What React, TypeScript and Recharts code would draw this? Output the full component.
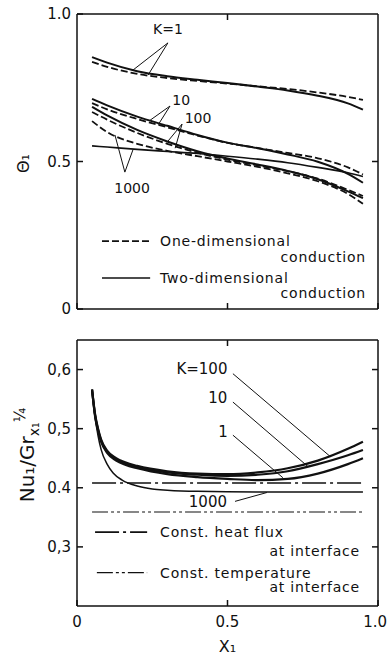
import React from 'react';
import { LineChart, Line, XAxis, YAxis, ReferenceLine, ReferenceDot } from 'recharts';

const FONT = '"DejaVu Sans", sans-serif';
const INK = '#111';

// ---------- top panel: theta_1 vs X_1 ----------
const thetaX = [0.05, 0.1, 0.2, 0.3, 0.4, 0.5, 0.6, 0.7, 0.8, 0.9, 0.95];
const thetaK1Two = [0.854, 0.835, 0.806, 0.789, 0.777, 0.766, 0.754, 0.741, 0.723, 0.697, 0.676];
const thetaK1One = [0.838, 0.821, 0.797, 0.783, 0.773, 0.764, 0.755, 0.746, 0.734, 0.719, 0.709];
const thetaK10Two = [0.712, 0.69, 0.652, 0.621, 0.59, 0.564, 0.545, 0.524, 0.499, 0.458, 0.428];
const thetaK10One = [0.698, 0.677, 0.644, 0.616, 0.588, 0.563, 0.546, 0.529, 0.511, 0.48, 0.456];
const thetaK100Two = [0.685, 0.656, 0.607, 0.568, 0.535, 0.51, 0.49, 0.468, 0.44, 0.399, 0.376];
const thetaK100One = [0.668, 0.642, 0.597, 0.56, 0.53, 0.506, 0.487, 0.467, 0.442, 0.404, 0.383];
const thetaK1000One = [0.637, 0.6, 0.56, 0.536, 0.518, 0.5, 0.482, 0.46, 0.433, 0.39, 0.357];
const thetaK1000Two = [0.553, 0.549, 0.541, 0.534, 0.527, 0.518, 0.508, 0.496, 0.48, 0.462, 0.449];

const thetaYTicks = [0, 0.5, 1];
const thetaYLabels = ['0', '0.5', '1.0'];

// ---------- bottom panel: Nu_1 / Gr^(1/4) vs X_1 ----------
const nuX = [0.05, 0.06, 0.07, 0.08, 0.1, 0.13, 0.16, 0.2, 0.3, 0.4, 0.5, 0.6, 0.7, 0.8, 0.9, 0.95];
const nuK100 = [0.566, 0.525, 0.5, 0.482, 0.463, 0.45, 0.443, 0.437, 0.428, 0.424, 0.423, 0.426, 0.433, 0.446, 0.466, 0.478];
const nuK10 = [0.566, 0.523, 0.498, 0.48, 0.461, 0.448, 0.441, 0.435, 0.426, 0.422, 0.42, 0.422, 0.428, 0.44, 0.455, 0.464];
const nuK1 = [0.566, 0.521, 0.496, 0.478, 0.459, 0.446, 0.439, 0.433, 0.423, 0.418, 0.415, 0.413, 0.415, 0.424, 0.44, 0.45];
const nuX1000 = [0.05, 0.06, 0.07, 0.08, 0.1, 0.12, 0.15, 0.2, 0.25, 0.3, 0.4, 0.6, 0.8, 0.95];
const nuK1000 = [0.566, 0.52, 0.488, 0.465, 0.44, 0.425, 0.413, 0.403, 0.398, 0.396, 0.394, 0.393, 0.393, 0.393];
const constX = [0.05, 0.95];
const nuHeatFlux = [0.408, 0.408];
const nuTemperature = [0.359, 0.359];

const nuYTicks = [0.3, 0.4, 0.5, 0.6];
const nuYLabels = ['0,3', '0.4', '0,5', '0,6'];

const xTicks = [0, 0.5, 1];
const xLabels = ['0', '0.5', '1.0'];
const midTick = [0.5];

// ---------- annotations (data coordinates) ----------
const topTexts = [
  { text: 'K=1', x: 0.302, y: 0.932, anchor: 'middle' },
  { text: '10', x: 0.346, y: 0.692, anchor: 'middle' },
  { text: '100', x: 0.402, y: 0.63, anchor: 'middle' },
  { text: '1000', x: 0.183, y: 0.393, anchor: 'middle' },
];
const topLeaders = [
  [0.302, 0.902, 0.186, 0.81],
  [0.302, 0.902, 0.236, 0.793],
  [0.309, 0.688, 0.243, 0.64],
  [0.309, 0.688, 0.27, 0.625],
  [0.349, 0.627, 0.299, 0.565],
  [0.349, 0.627, 0.326, 0.545],
  [0.159, 0.464, 0.126, 0.59],
  [0.159, 0.464, 0.186, 0.54],
];
const topLegendLines = [
  { x1: 0.083, x2: 0.243, y: 0.23, dash: '7 3' },
  { x1: 0.083, x2: 0.243, y: 0.105, dash: '' },
];
const topLegendTexts = [
  { text: 'One-dimensional', x: 0.276, y: 0.214, anchor: 'start' },
  { text: 'conduction', x: 0.96, y: 0.159, anchor: 'end' },
  { text: 'Two-dimensional', x: 0.276, y: 0.088, anchor: 'start' },
  { text: 'conduction', x: 0.96, y: 0.037, anchor: 'end' },
];

const bottomTexts = [
  { text: 'K=100', x: 0.415, y: 0.592, anchor: 'middle' },
  { text: '10', x: 0.468, y: 0.543, anchor: 'middle' },
  { text: '1', x: 0.485, y: 0.486, anchor: 'middle' },
  { text: '1000', x: 0.435, y: 0.367, anchor: 'middle' },
];
const bottomLeaders = [
  [0.518, 0.593, 0.841, 0.453],
  [0.518, 0.545, 0.767, 0.436],
  [0.518, 0.489, 0.684, 0.417],
  [0.525, 0.377, 0.631, 0.392],
];
const bottomLegendLines = [
  { x1: 0.06, x2: 0.233, y: 0.325, dash: '24 4 3 4', w: 1.6 },
  { x1: 0.066, x2: 0.233, y: 0.2564, dash: '16 3 3 3 3 3', w: 1.2 },
];
const bottomLegendTexts = [
  { text: 'Const. heat flux', x: 0.276, y: 0.317, anchor: 'start' },
  { text: 'at interface', x: 0.94, y: 0.285, anchor: 'end' },
  { text: 'Const. temperature', x: 0.276, y: 0.248, anchor: 'start' },
  { text: 'at interface', x: 0.94, y: 0.2229, anchor: 'end' },
];

const pts = (xs: number[], ys: number[]) => xs.map((x, i) => ({ x, y: ys[i] }));

// ---------- tick renderers ----------
const leftTick = (ticks: number[], labels: string[]) => (p: any) => {
  const i = ticks.findIndex((t) => Math.abs(t - p.payload.value) < 1e-9);
  return (
    <g>
      <line x1={p.x} x2={p.x + 6} y1={p.y} y2={p.y} stroke={INK} strokeWidth={1.5} />
      <text x={p.x - 6} y={p.y} dy="0.36em" textAnchor="end" fontSize={15} fontFamily={FONT} fill={INK}>
        {labels[i]}
      </text>
    </g>
  );
};
const rightTick = (p: any) => (
  <line x1={p.x} x2={p.x - 6} y1={p.y} y2={p.y} stroke={INK} strokeWidth={1.5} />
);
const topTick = (p: any) => (
  <line x1={p.x} x2={p.x} y1={p.y} y2={p.y + 6} stroke={INK} strokeWidth={1.5} />
);
const bottomTick = (labels: string[] | null) => (p: any) => {
  const i = xTicks.findIndex((t) => Math.abs(t - p.payload.value) < 1e-9);
  const last = i === xTicks.length - 1;
  return (
    <g>
      <line x1={p.x} x2={p.x} y1={p.y} y2={p.y - 6} stroke={INK} strokeWidth={1.5} />
      {labels ? (
        <text
          x={last ? p.x + 9 : p.x}
          y={p.y + 21}
          textAnchor={last ? 'end' : 'middle'}
          fontSize={15}
          fontFamily={FONT}
          fill={INK}
        >
          {labels[i]}
        </text>
      ) : null}
    </g>
  );
};

const textShape = (t: { text: string; anchor: string }, size: number, spacing = 0) => (p: any) => (
  <text
    x={p.cx}
    y={p.cy}
    textAnchor={t.anchor as any}
    fontSize={size}
    letterSpacing={spacing}
    fontFamily={FONT}
    fill={INK}
  >
    {t.text}
  </text>
);

const axisLine = { stroke: INK, strokeWidth: 1.5 };

const frameAxes = (yTicks: number[], yLabels: string[], yDomain: number[], rightTicks: number[], xLabelsOrNull: string[] | null, xAxisHeight: number, yLabel: any, xLabel: any) => [
  <XAxis
    key="xb"
    type="number"
    dataKey="x"
    domain={[0, 1]}
    ticks={xTicks}
    interval={0}
    tickSize={0}
    tickMargin={0}
    tickLine={false}
    axisLine={axisLine}
    height={xAxisHeight}
    tick={bottomTick(xLabelsOrNull)}
    label={xLabel}
  />,
  <XAxis
    key="xt"
    xAxisId="top"
    orientation="top"
    type="number"
    dataKey="x"
    domain={[0, 1]}
    ticks={midTick}
    interval={0}
    tickSize={0}
    tickMargin={0}
    tickLine={false}
    axisLine={axisLine}
    height={1}
    tick={topTick}
  />,
  <YAxis
    key="yl"
    type="number"
    dataKey="y"
    domain={yDomain}
    ticks={yTicks}
    interval={0}
    tickSize={0}
    tickMargin={0}
    tickLine={false}
    axisLine={axisLine}
    width={77}
    tick={leftTick(yTicks, yLabels)}
    label={yLabel}
  />,
  <YAxis
    key="yr"
    yAxisId="right"
    orientation="right"
    type="number"
    dataKey="y"
    domain={yDomain}
    ticks={rightTicks}
    interval={0}
    tickSize={0}
    tickMargin={0}
    tickLine={false}
    axisLine={axisLine}
    width={1}
    tick={rightTick}
  />,
];

const thetaLabel = {
  content: (p: any) => {
    const vb = p.viewBox;
    const cx = vb.x + 29;
    const cy = vb.y + vb.height / 2 + 2;
    return (
      <text x={cx} y={cy} transform={`rotate(-90 ${cx} ${cy})`} textAnchor="middle" fontSize={16} fontFamily={FONT} fill={INK}>
        Θ₁
      </text>
    );
  },
};

const nuLabel = {
  content: (p: any) => {
    const vb = p.viewBox;
    const cx = vb.x + 34;
    const cy = vb.y + vb.height / 2 - 18;
    return (
      <text x={cx} y={cy} transform={`rotate(-90 ${cx} ${cy})`} textAnchor="middle" fontSize={20} fontFamily={FONT} fill={INK}>
        Nu₁/Gr
        <tspan fontSize={14} dy={5}>x₁</tspan>
        <tspan fontSize={15} dy={-14}>¼</tspan>
      </text>
    );
  },
};

const x1Label = {
  content: (p: any) => {
    const vb = p.viewBox;
    return (
      <text x={vb.x + vb.width / 2} y={vb.y + 46} textAnchor="middle" fontSize={16} fontFamily={FONT} fill={INK}>
        X₁
      </text>
    );
  },
};

const solid = { stroke: INK, strokeWidth: 2, dot: false, isAnimationActive: false, type: 'monotone' as const };
const dashed = { ...solid, strokeWidth: 1.8, strokeDasharray: '7 3' };
// series drawn against the mirrored (top/right) axes, which share the same scales
const mirrored = { xAxisId: 'top', yAxisId: 'right' };

export default function App() {
  return (
    <div style={{ position: 'absolute', left: 0, top: 0, width: 387, height: 655, background: '#fff' }}>
      <div style={{ position: 'absolute', left: 0, top: 0 }}>
        <LineChart width={387} height={320} margin={{ top: 13, right: 8, bottom: 0, left: 0 }}>
          {frameAxes(thetaYTicks, thetaYLabels, [0, 1], midTick, null, 11, thetaLabel, undefined)}
          <Line data={pts(thetaX, thetaK1Two)} dataKey="y" {...solid} />
          <Line data={pts(thetaX, thetaK1One)} dataKey="y" {...dashed} {...mirrored} />
          <Line data={pts(thetaX, thetaK10Two)} dataKey="y" {...solid} />
          <Line data={pts(thetaX, thetaK10One)} dataKey="y" {...dashed} {...mirrored} />
          <Line data={pts(thetaX, thetaK100Two)} dataKey="y" {...solid} />
          <Line data={pts(thetaX, thetaK100One)} dataKey="y" {...dashed} {...mirrored} />
          <Line data={pts(thetaX, thetaK1000One)} dataKey="y" {...dashed} {...mirrored} />
          <Line data={pts(thetaX, thetaK1000Two)} dataKey="y" {...solid} strokeWidth={1.6} />
          {topLeaders.map((l, i) => (
            <ReferenceLine key={'tl' + i} segment={[{ x: l[0], y: l[1] }, { x: l[2], y: l[3] }]} stroke={INK} strokeWidth={1} ifOverflow="visible" />
          ))}
          {topTexts.map((t, i) => (
            <ReferenceDot key={'tt' + i} x={t.x} y={t.y} r={1} ifOverflow="visible" shape={textShape(t, 14)} />
          ))}
          {topLegendLines.map((l, i) => (
            <ReferenceLine key={'tg' + i} segment={[{ x: l.x1, y: l.y }, { x: l.x2, y: l.y }]} stroke={INK} strokeWidth={1.6} strokeDasharray={l.dash || undefined} ifOverflow="visible" />
          ))}
          {topLegendTexts.map((t, i) => (
            <ReferenceDot key={'tx' + i} x={t.x} y={t.y} r={1} ifOverflow="visible" shape={textShape(t, 14, 0.8)} />
          ))}
        </LineChart>
      </div>
      <div style={{ position: 'absolute', left: 0, top: 320 }}>
        <LineChart width={387} height={335} margin={{ top: 19, right: 8, bottom: 0, left: 0 }}>
          {frameAxes(nuYTicks, nuYLabels, [0.2, 0.65], nuYTicks, xLabels, 49, nuLabel, x1Label)}
          <Line data={pts(nuX, nuK100)} dataKey="y" {...solid} strokeWidth={2.2} />
          <Line data={pts(nuX, nuK10)} dataKey="y" {...solid} strokeWidth={2.2} />
          <Line data={pts(nuX, nuK1)} dataKey="y" {...solid} strokeWidth={2.2} />
          <Line data={pts(nuX1000, nuK1000)} dataKey="y" {...solid} strokeWidth={1.5} />
          <Line data={pts(constX, nuHeatFlux)} dataKey="y" {...solid} {...mirrored} type="linear" strokeWidth={1.6} strokeDasharray="24 4 3 4" />
          <Line data={pts(constX, nuTemperature)} dataKey="y" {...solid} {...mirrored} type="linear" strokeWidth={1.2} strokeDasharray="16 3 3 3 3 3" />
          {bottomLeaders.map((l, i) => (
            <ReferenceLine key={'bl' + i} segment={[{ x: l[0], y: l[1] }, { x: l[2], y: l[3] }]} stroke={INK} strokeWidth={1} ifOverflow="visible" />
          ))}
          {bottomTexts.map((t, i) => (
            <ReferenceDot key={'bt' + i} x={t.x} y={t.y} r={1} ifOverflow="visible" shape={textShape(t, 15)} />
          ))}
          {bottomLegendLines.map((l, i) => (
            <ReferenceLine key={'bg' + i} segment={[{ x: l.x1, y: l.y }, { x: l.x2, y: l.y }]} stroke={INK} strokeWidth={l.w} strokeDasharray={l.dash} ifOverflow="visible" />
          ))}
          {bottomLegendTexts.map((t, i) => (
            <ReferenceDot key={'bx' + i} x={t.x} y={t.y} r={1} ifOverflow="visible" shape={textShape(t, 14, 0.8)} />
          ))}
        </LineChart>
      </div>
    </div>
  );
}
